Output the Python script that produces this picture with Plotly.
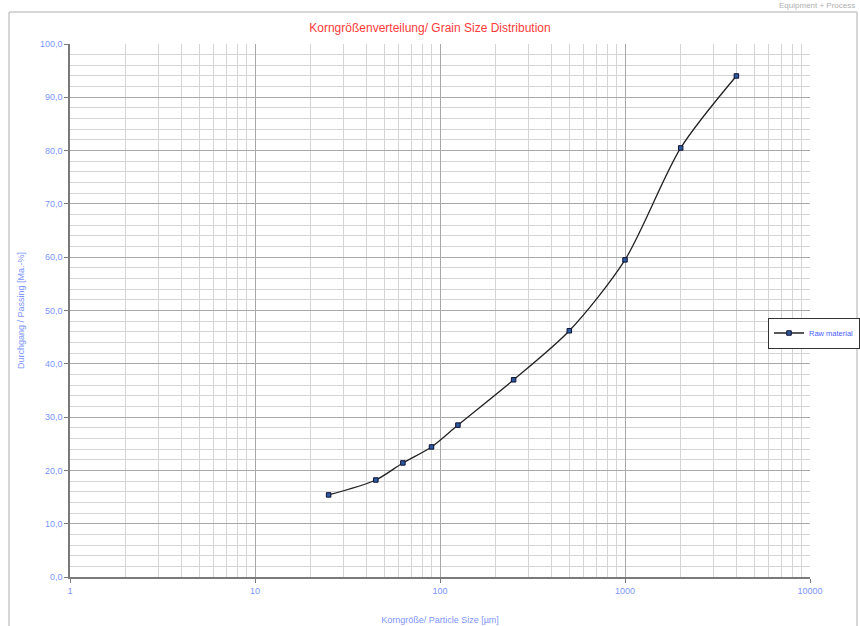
import plotly.graph_objects as go

particle_size_um = [25, 45, 63, 90, 125, 250, 500, 1000, 2000, 4000]
passing_pct = [15.4, 18.2, 21.4, 24.4, 28.5, 37.0, 46.2, 59.5, 80.5, 94.0]
series_name = "Raw material"
x_tick_vals = [1, 10, 100, 1000, 10000]
x_tick_text = ["1", "10", "100", "1000", "10000"]

blue = "#7d95ff"
font_family = "Liberation Sans, Arial, sans-serif"

fig = go.Figure()
fig.add_trace(go.Scatter(
    x=particle_size_um, y=passing_pct, name=series_name,
    mode="lines+markers",
    line=dict(color="#222222", width=1.3, shape="spline", smoothing=0.8),
    marker=dict(symbol="square", size=4.5, color="#2c5a9e", line=dict(color="#111133", width=1)),
))

fig.update_layout(
    width=860, height=626,
    margin=dict(l=70, r=50, t=44, b=49, autoexpand=False),
    paper_bgcolor="white", plot_bgcolor="white",
    separators=",.",
    font=dict(family=font_family, size=9, color=blue),
    title=dict(text="Korngrößenverteilung/ Grain Size Distribution", x=0.5, xanchor="center",
               y=1 - 28 / 626, yanchor="middle",
               font=dict(family=font_family, size=12, color="#ff3b3b")),
    showlegend=True,
    legend=dict(x=(768 - 70) / 740, y=1 - (333 - 44) / 533, xanchor="left", yanchor="middle",
                bgcolor="white", bordercolor="#333333", borderwidth=1,
                font=dict(size=7.5, color="#4a5cff"), itemwidth=30,
                tracegroupgap=0),
    xaxis=dict(
        type="log", range=[0, 4],
        tickvals=x_tick_vals, ticktext=x_tick_text,
        showgrid=True, gridcolor="#a8a8a8", gridwidth=1,
        minor=dict(dtick="D1", showgrid=True, gridcolor="#d4d4d4", gridwidth=1, ticks=""),
        showline=True, linecolor="#7a7a7a", linewidth=1.5, mirror=False,
        ticks="outside", ticklen=4, tickcolor="#7a7a7a",
        tickfont=dict(size=9, color=blue),
        title=dict(text="Korngröße/ Particle Size [µm]", font=dict(size=9, color=blue), standoff=22),
        zeroline=False,
    ),
    yaxis=dict(
        range=[0, 100], dtick=10, tickformat=".1f",
        showgrid=True, gridcolor="#a8a8a8", gridwidth=1,
        minor=dict(dtick=2, showgrid=True, gridcolor="#d4d4d4", gridwidth=1, ticks=""),
        showline=True, linecolor="#7a7a7a", linewidth=1.5,
        ticks="outside", ticklen=4, tickcolor="#7a7a7a",
        tickfont=dict(size=9, color=blue),
        title=dict(text="Durchgang / Passing [Ma.-%]", font=dict(size=9, color=blue), standoff=14),
        zeroline=False,
    ),
)

# outer frame of the chart area
fig.add_shape(type="line", xref="paper", yref="paper",
              x0=(9 - 70) / 740, x1=(9 - 70) / 740, y0=1 + 32 / 533, y1=-0.2,
              line=dict(color="#c8c8c8", width=1.5))
fig.add_shape(type="line", xref="paper", yref="paper",
              x0=(9 - 70) / 740, x1=(857 - 70) / 740, y0=1 + 32 / 533, y1=1 + 32 / 533,
              line=dict(color="#c8c8c8", width=1.5))
fig.add_shape(type="line", xref="paper", yref="paper",
              x0=(857 - 70) / 740, x1=(857 - 70) / 740, y0=1 + 32 / 533, y1=-0.2,
              line=dict(color="#c8c8c8", width=1.5))

fig.add_annotation(text="Equipment + Process", xref="paper", yref="paper",
                   x=(857 - 70) / 740, y=1 + 38 / 533, xanchor="right", yanchor="middle",
                   showarrow=False, font=dict(size=8, color="#b0b0b0"))

fig.write_html("out.html", config={"displayModeBar": False},
               post_script="document.body.style.margin='0';document.body.style.overflow='hidden';")
